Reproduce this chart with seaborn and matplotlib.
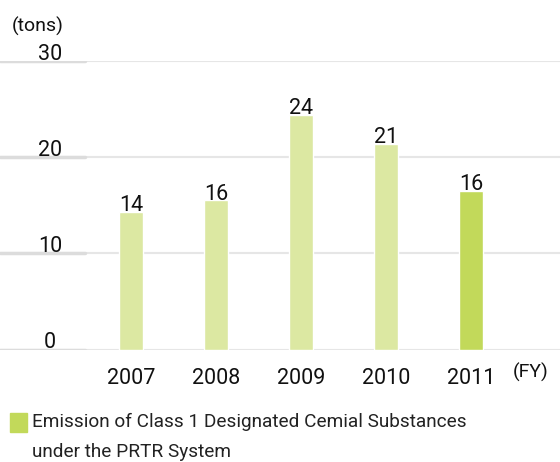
import matplotlib
matplotlib.use("Agg")
import matplotlib.pyplot as plt
import seaborn as sns
import pandas as pd

years = ["2007", "2008", "2009", "2010", "2011"]
values = [14.3, 15.5, 24.4, 21.4, 16.5]
value_labels = ["14", "16", "24", "21", "16"]
yticks = [0, 10, 20, 30]
bar_colors = ["#dce8a2", "#dce8a2", "#dce8a2", "#dce8a2", "#c2d95a"]
legend_label = "Emission of Class 1 Designated Cemial Substances\nunder the PRTR System"

sns.set_style("white")
plt.rcParams["font.family"] = ["Roboto", "DejaVu Sans"]

df = pd.DataFrame({"year": years, "value": values})

fig = plt.figure(figsize=(5.6, 4.62), dpi=100)
W, H = 560, 462
ax = fig.add_axes([0, (H - 349.5) / H, 1, (349.5 - 61) / H])

sns.barplot(data=df, x="year", y="value", hue="year", palette=bar_colors,
            width=24 / 85, legend=False, ax=ax, saturation=1, zorder=3)

ax.set_xlim(-131 / 85, (560 - 131) / 85)
ax.set_ylim(0, 30)

for t in yticks:
    ax.axhline(t, color="#e6e6e6", lw=1.5, zorder=1)
    ax.axhline(t, xmin=0, xmax=85 / 560, color="#dcdcdc", lw=2.5, zorder=2)
    ax.text(50 / 560, t + 0.12, str(t), transform=ax.get_yaxis_transform(),
            ha="center", va="baseline", fontsize=15.5, color="#111111")

for i, (v, lab) in enumerate(zip(values, value_labels)):
    ax.text(i, v + 0.08, lab, ha="center", va="baseline", fontsize=15.5, color="#111111")

ax.set_yticks([])
ax.set_xticks(range(len(years)))
ax.set_xticklabels(years, fontsize=15.5, color="#111111")
ax.tick_params(axis="x", length=0, pad=13)
ax.set_xlabel("")
ax.set_ylabel("")
for s in ax.spines.values():
    s.set_visible(False)

fig.text(12 / W, 1 - 26 / H, "(tons)", ha="left", va="center", fontsize=14, color="#111111")
fig.text(513 / W, 1 - 372 / H, "(FY)", ha="left", va="center", fontsize=14, color="#111111")

fig.patches.append(plt.Rectangle((10 / W, 1 - 432 / H), 17 / W, 19 / H,
                                 transform=fig.transFigure, color="#c2d95a"))
fig.text(32 / W, 1 - 437 / H, legend_label, ha="left", va="center", fontsize=13.7,
         color="#222222", linespacing=1.8)

fig.savefig("out.png", dpi=100)
